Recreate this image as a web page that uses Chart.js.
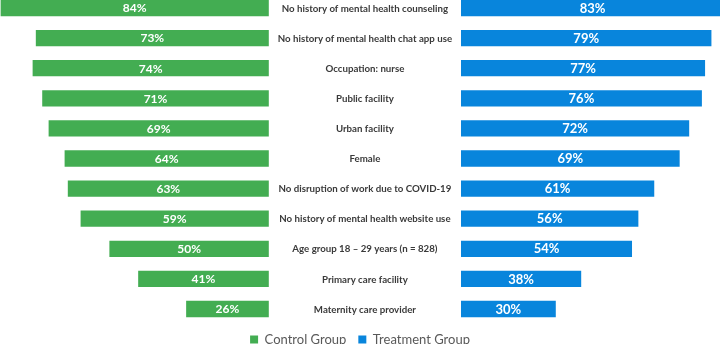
<!DOCTYPE html>
<html>
<head>
<meta charset="utf-8">
<script src="https://cdn.jsdelivr.net/npm/chart.js@4"></script>
<style>
  html, body { margin: 0; padding: 0; background: #fff; }
  #wrap { width: 720px; height: 344px; }
</style>
</head>
<body>
<div id="wrap"><canvas id="myChart"></canvas></div>
<script>
'use strict'

// data
let categories = ['No history of mental health counseling', 'No history of mental health chat app use',
  'Occupation: nurse', 'Public facility', 'Urban facility', 'Female',
  'No disruption of work due to COVID-19', 'No history of mental health website use',
  'Age group 18 \u2013 29 years (n = 828)', 'Primary care facility', 'Maternity care provider'];
let controlValues = [84, 73, 74, 71, 69, 64, 63, 59, 50, 41, 26];
let treatmentValues = [83, 79, 77, 76, 72, 69, 61, 56, 54, 38, 30];
let seriesNames = ['Control Group', 'Treatment Group'];

let greenColor = '#43ad52';
let blueColor = '#0885dc';

// the two value axes and the gap between them share the width
let leftMax = 84.2;
let rightMax = 81.7;

Chart.defaults.font.family = 'Lato';

// draws the percent in each bar and the row names in the middle
let labelPlugin = {
  id: 'labelPlugin',
  afterDatasetsDraw(chart) {
    let ctx = chart.ctx;
    ctx.save();
    ctx.textAlign = 'center';
    ctx.textBaseline = 'middle';
    chart.data.datasets.forEach(function (ds, di) {
      let meta = chart.getDatasetMeta(di);
      ctx.fillStyle = '#ffffff';
      ctx.font = 'bold ' + (di === 0 ? 12 : 13) + 'px Lato';
      meta.data.forEach(function (bar, i) {
        let cx = (bar.x + bar.base) / 2;
        ctx.fillText(ds.data[i] + '%', cx, bar.y + 0.5);
      });
    });
    let mid = chart.scales.xM;
    let midX = (mid.left + mid.right) / 2;
    ctx.fillStyle = '#3a3a3a';
    ctx.font = 'bold 9.7px Lato';
    categories.forEach(function (c, i) {
      ctx.fillText(c, midX, chart.scales.y.getPixelForValue(i) + 0.5);
    });
    ctx.restore();
  }
};

let spacer = {
  display: true,
  grid: { display: true, drawOnChartArea: false, drawTicks: true, tickLength: 12, color: 'rgba(0,0,0,0)' },
  border: { display: false },
  ticks: { display: false }
};

let ctx = document.getElementById('myChart').getContext('2d');
let myChart = new Chart(ctx, {
  type: 'bar',
  data: {
    labels: categories,
    datasets: [{
      label: seriesNames[0],
      data: controlValues,
      xAxisID: 'xL',
      backgroundColor: greenColor,
      grouped: false,
      clip: false
    }, {
      label: seriesNames[1],
      data: treatmentValues,
      xAxisID: 'xR',
      backgroundColor: blueColor,
      grouped: false,
      clip: false
    }]
  },
  options: {
    indexAxis: 'y',
    responsive: true,
    maintainAspectRatio: false,
    animation: false,
    categoryPercentage: 1,
    barPercentage: 0.54,
    layout: { padding: { top: 8, bottom: -12, left: 0, right: 0 } },
    scales: {
      xL: Object.assign({ type: 'linear', position: 'bottom', stack: 'row', stackWeight: 269.3, reverse: true, min: 0, max: leftMax }, spacer),
      xM: Object.assign({ type: 'linear', position: 'bottom', stack: 'row', stackWeight: 191.2, min: 0, max: 1 }, spacer),
      xR: Object.assign({ type: 'linear', position: 'bottom', stack: 'row', stackWeight: 259.5, min: 0, max: rightMax }, spacer),
      y: { type: 'category', offset: false, display: false }
    },
    plugins: {
      legend: {
        position: 'bottom',
        labels: {
          boxWidth: 8,
          boxHeight: 8,
          padding: 12,
          color: '#595959',
          font: { size: 13 }
        }
      },
      tooltip: { enabled: false }
    }
  },
  plugins: [labelPlugin]
});
</script>
</body>
</html>
